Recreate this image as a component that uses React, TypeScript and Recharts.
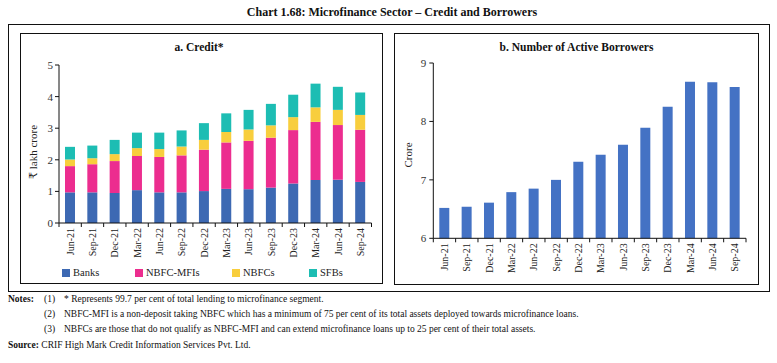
import React from 'react';
import { BarChart, Bar, XAxis, YAxis } from 'recharts';

const categories = ['Jun-21', 'Sep-21', 'Dec-21', 'Mar-22', 'Jun-22', 'Sep-22', 'Dec-22', 'Mar-23', 'Jun-23', 'Sep-23', 'Dec-23', 'Mar-24', 'Jun-24', 'Sep-24'];
const banks = [0.97, 0.97, 0.95, 1.04, 0.97, 0.97, 1.01, 1.08, 1.07, 1.12, 1.25, 1.36, 1.37, 1.30];
const nbfcMfis = [0.83, 0.89, 1.01, 1.08, 1.12, 1.17, 1.31, 1.47, 1.53, 1.58, 1.69, 1.84, 1.73, 1.65];
const nbfcs = [0.21, 0.19, 0.22, 0.25, 0.25, 0.28, 0.31, 0.33, 0.36, 0.39, 0.41, 0.46, 0.48, 0.47];
const sfbs = [0.40, 0.40, 0.45, 0.49, 0.52, 0.51, 0.53, 0.59, 0.62, 0.68, 0.71, 0.75, 0.73, 0.71];
const borrowers = [6.52, 6.54, 6.61, 6.79, 6.85, 7.00, 7.31, 7.43, 7.60, 7.89, 8.25, 8.68, 8.67, 8.59];
const creditTicks = [0, 1, 2, 3, 4, 5];
const borrowerTicks = [6, 7, 8, 9];

const seriesNames = ['Banks', 'NBFC-MFIs', 'NBFCs', 'SFBs'];
const seriesKeys = ['banks', 'nbfcMfis', 'nbfcs', 'sfbs'];
const seriesColors = ['#3D69B3', '#EC2D8F', '#F8CE3D', '#1DBDB3'];
const borrowerColor = '#4472C4';

const creditData = categories.map((c, i) => ({
  name: c,
  banks: banks[i],
  nbfcMfis: nbfcMfis[i],
  nbfcs: nbfcs[i],
  sfbs: sfbs[i],
}));
const borrowerData = categories.map((c, i) => ({ name: c, value: borrowers[i] }));

const FONT = '"Liberation Serif", "DejaVu Serif", serif';

const makeXTick = (band: number, n: number) => (props: any) => {
  const { x, y, payload, index } = props;
  return (
    <g transform={`translate(${x},${y})`}>
      <line x1={-band / 2} x2={-band / 2} y1={0} y2={4} stroke="#111" strokeWidth={1} />
      {index === n - 1 && <line x1={band / 2} x2={band / 2} y1={0} y2={4} stroke="#111" strokeWidth={1} />}
      <text transform="rotate(-90)" x={-5} y={3.5} textAnchor="end" fontSize={10} fill="#222" fontFamily={FONT}>
        {payload.value}
      </text>
    </g>
  );
};

const L = { left: 20, top: 33, w: 363, h: 251, ml: 0, mr: 11.5, mt: 32, mb: 11, ya: 39, xa: 50 };
const R = { left: 394, top: 33, w: 365, h: 252, ml: 0.3, mr: 13, mt: 30, mb: 6.7, ya: 39, xa: 40 };
const bandL = (L.w - L.ml - L.ya - L.mr) / categories.length;
const bandR = (R.w - R.ml - R.ya - R.mr) / categories.length;

const box = (left: number, top: number, w: number, h: number): React.CSSProperties => ({
  position: 'absolute', left, top, width: w, height: h, border: '1px solid #111', boxSizing: 'border-box',
});

const txt = (extra: React.CSSProperties): React.CSSProperties => ({
  position: 'absolute', fontFamily: FONT, color: '#111', whiteSpace: 'nowrap', lineHeight: 1, ...extra,
});

export default function App() {
  return (
    <div style={{ position: 'absolute', left: 0, top: 0, width: 777, height: 363, background: '#fff', fontFamily: FONT }}>
      <div style={txt({ left: 0, width: 784, top: 6, textAlign: 'center', fontSize: 12, fontWeight: 'bold' })}>
        Chart 1.68: Microfinance Sector – Credit and Borrowers
      </div>
      <div style={box(8, 24, 762, 268)} />
      <div style={box(20, 33, 363, 251)} />
      <div style={box(394, 33, 365, 252)} />

      <div style={txt({ left: 20, width: 358, top: 42, textAlign: 'center', fontSize: 11.5, fontWeight: 'bold' })}>a. Credit*</div>
      <div style={txt({ left: 394, width: 365, top: 42, textAlign: 'center', fontSize: 11.5, fontWeight: 'bold' })}>b. Number of Active Borrowers</div>

      <div style={txt({ left: 33, top: 152, fontSize: 11, transform: 'translate(-50%,-50%) rotate(-90deg)', color: '#222' })}>₹ lakh crore</div>
      <div style={txt({ left: 408, top: 155, fontSize: 11, transform: 'translate(-50%,-50%) rotate(-90deg)', color: '#222' })}>Crore</div>

      <div style={{ position: 'absolute', left: L.left, top: L.top }}>
        <BarChart width={L.w} height={L.h} data={creditData} margin={{ left: L.ml, right: L.mr, top: L.mt, bottom: L.mb }} barSize={10}>
          <XAxis dataKey="name" interval={0} height={L.xa} tickLine={false} tickSize={0} tickMargin={0}
            axisLine={{ stroke: '#111' }} tick={makeXTick(bandL, categories.length)} />
          <YAxis width={L.ya} domain={[0, 5]} ticks={creditTicks} tickSize={4} tickMargin={2}
            axisLine={{ stroke: '#111' }} tickLine={{ stroke: '#111' }}
            tick={{ fontSize: 11, fill: '#333', fontFamily: FONT }} />
          {seriesKeys.map((k, i) => (
            <Bar key={k} dataKey={k} name={seriesNames[i]} stackId="a" fill={seriesColors[i]} isAnimationActive={false} />
          ))}
        </BarChart>
      </div>

      <div style={{ position: 'absolute', left: R.left, top: R.top }}>
        <BarChart width={R.w} height={R.h} data={borrowerData} margin={{ left: R.ml, right: R.mr, top: R.mt, bottom: R.mb }} barSize={10}>
          <XAxis dataKey="name" interval={0} height={R.xa} tickLine={false} tickSize={0} tickMargin={0}
            axisLine={{ stroke: '#111' }} tick={makeXTick(bandR, categories.length)} />
          <YAxis width={R.ya} domain={[6, 9]} ticks={borrowerTicks} tickSize={4} tickMargin={3}
            axisLine={{ stroke: '#111' }} tickLine={{ stroke: '#111' }}
            tick={{ fontSize: 11, fill: '#333', fontFamily: FONT }} />
          <Bar dataKey="value" fill={borrowerColor} isAnimationActive={false} />
        </BarChart>
      </div>

      {[62, 135, 232, 309].map((x, i) => (
        <div key={seriesKeys[i]} style={{ position: 'absolute', left: x, top: 268, display: 'flex', alignItems: 'center' }}>
          <div style={{ width: 8, height: 8, background: seriesColors[i] }} />
          <span style={{ fontSize: 10.5, marginLeft: 3, fontFamily: FONT, color: '#222', lineHeight: '10px' }}>{seriesNames[i]}</span>
        </div>
      ))}

      <div style={txt({ left: 8, top: 295, fontSize: 9.5, fontWeight: 'bold' })}>Notes:</div>
      <div style={txt({ left: 44, top: 295, fontSize: 9.5 })}>(1)</div>
      <div style={txt({ left: 64, top: 295, fontSize: 9.5 })}>* Represents 99.7 per cent of total lending to microfinance segment.</div>
      <div style={txt({ left: 44, top: 310, fontSize: 9.5 })}>(2)</div>
      <div style={txt({ left: 64, top: 310, fontSize: 9.5 })}>NBFC-MFI is a non-deposit taking NBFC which has a minimum of 75 per cent of its total assets deployed towards microfinance loans.</div>
      <div style={txt({ left: 44, top: 325, fontSize: 9.5 })}>(3)</div>
      <div style={txt({ left: 64, top: 325, fontSize: 9.5 })}>NBFCs are those that do not qualify as NBFC-MFI and can extend microfinance loans up to 25 per cent of their total assets.</div>
      <div style={txt({ left: 8, top: 341, fontSize: 9.5 })}><b>Source:</b> CRIF High Mark Credit Information Services Pvt. Ltd.</div>
    </div>
  );
}
